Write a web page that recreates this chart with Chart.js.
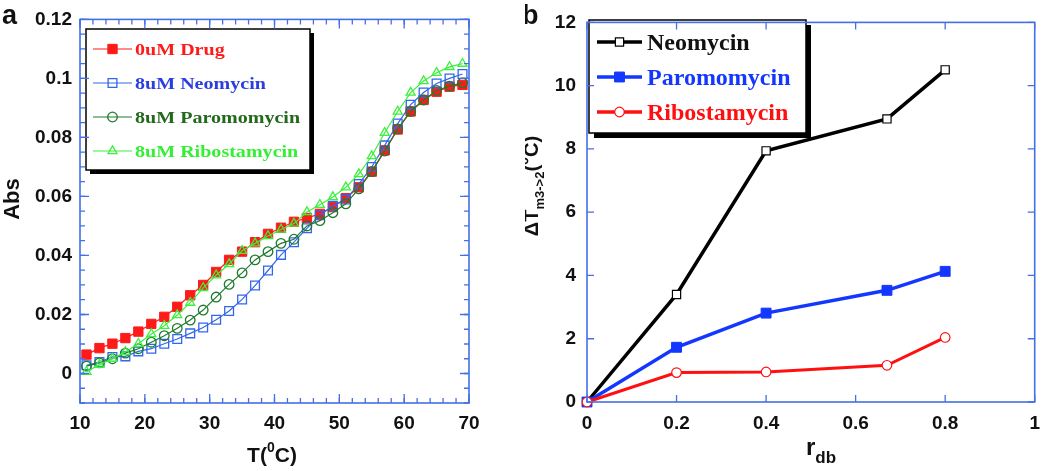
<!DOCTYPE html>
<html>
<head>
<meta charset="utf-8">
<script src="https://cdn.jsdelivr.net/npm/chart.js@4.4.0/dist/chart.umd.min.js"></script>
<style>
  html, body { margin: 0; padding: 0; background: #fff; }
  #wrapA { position: absolute; left: 0; top: 0; width: 525px; height: 471px; }
  #wrapB { position: absolute; left: 525px; top: 0; width: 525px; height: 471px; }
</style>
</head>
<body>
<div id="wrapA"><canvas id="chartA" width="525" height="471"></canvas></div>
<div id="wrapB"><canvas id="chartB" width="525" height="471"></canvas></div>
<script>
// ---- panel a : melting curves ----
const tempC = [11, 13, 15, 17, 19, 21, 23, 25, 27, 29, 31, 33, 35, 37, 39,
               41, 43, 45, 47, 49, 51, 53, 55, 57, 59, 61, 63, 65, 67, 69];
const absDrug0 = [0.0064, 0.0086, 0.0101, 0.0120, 0.0142, 0.0168, 0.0192, 0.0226, 0.0265, 0.0300,
                  0.0344, 0.0385, 0.0413, 0.0445, 0.0473, 0.0494, 0.0514, 0.0527, 0.0541, 0.0564,
                  0.0594, 0.0631, 0.0684, 0.0756, 0.0827, 0.0888, 0.0927, 0.0955, 0.0972, 0.0978];
const absNeo = [0.0028, 0.0039, 0.0056, 0.0058, 0.0075, 0.0084, 0.0101, 0.0117, 0.0136, 0.0156,
                0.0182, 0.0212, 0.0251, 0.0298, 0.0349, 0.0402, 0.0445, 0.0492, 0.0536, 0.0568,
                0.0590, 0.0642, 0.0700, 0.0773, 0.0847, 0.0911, 0.0952, 0.0983, 0.1000, 0.1015];
const absParo = [0.0025, 0.0036, 0.0050, 0.0069, 0.0084, 0.0106, 0.0128, 0.0153, 0.0181, 0.0215,
                 0.0259, 0.0302, 0.0341, 0.0385, 0.0413, 0.0441, 0.0455, 0.0500, 0.0518, 0.0545,
                 0.0575, 0.0626, 0.0684, 0.0754, 0.0829, 0.0888, 0.0927, 0.0959, 0.0974, 0.0985];
const absRibo = [0.0006, 0.0030, 0.0050, 0.0073, 0.0101, 0.0134, 0.0162, 0.0198, 0.0240, 0.0290,
                 0.0333, 0.0371, 0.0416, 0.0441, 0.0466, 0.0488, 0.0508, 0.0547, 0.0572, 0.0598,
                 0.0631, 0.0676, 0.0737, 0.0816, 0.0888, 0.0952, 0.0991, 0.1019, 0.1039, 0.1050];
const seriesA = ['0uM Drug', '8uM Neomycin', '8uM Paromomycin', '8uM Ribostamycin'];
const tempTicks = [10, 20, 30, 40, 50, 60, 70];
const tempTickLabels = ['10', '20', '30', '40', '50', '60', '70'];
const absTicks = [0, 0.02, 0.04, 0.06, 0.08, 0.1, 0.12];
const absTickLabels = ['0', '0.02', '0.04', '0.06', '0.08', '0.1', '0.12'];

// ---- panel b : delta Tm vs r_db ----
const rdb = [0, 0.2, 0.4, 0.67, 0.8];
const dtNeo = [0, 3.40, 7.94, 8.95, 10.5];
const dtParo = [0, 1.73, 2.81, 3.53, 4.13];
const dtRibo = [0, 0.93, 0.95, 1.16, 2.04];
const seriesB = ['Neomycin', 'Paromomycin', 'Ribostamycin'];
const rdbTicks = [0, 0.2, 0.4, 0.6, 0.8, 1];
const rdbTickLabels = ['0', '0.2', '0.4', '0.6', '0.8', '1'];
const dtTicks = [0, 2, 4, 6, 8, 10, 12];
const dtTickLabels = ['0', '2', '4', '6', '8', '10', '12'];

const SANS = "'Liberation Sans', Arial, sans-serif";
const SERIF = "'Liberation Serif', 'Times New Roman', serif";
const FRAME = '#4470e6';

Chart.defaults.font.family = SANS;
Chart.defaults.font.weight = 'bold';
Chart.defaults.font.size = 19;
Chart.defaults.color = '#111';

const pts = (xs, ys) => xs.map((x, i) => ({ x: x, y: ys[i] }));

// frame + inward ticks on all four sides
const frameTicks = {
  id: 'frameTicks',
  afterDraw(chart, args, o) {
    const { ctx, chartArea: a, scales: { x, y } } = chart;
    ctx.save();
    ctx.strokeStyle = FRAME;
    ctx.lineWidth = 1.6;
    ctx.strokeRect(a.left, a.top, a.right - a.left, a.bottom - a.top);
    ctx.lineWidth = 1.3;
    const tick = (px, len, horiz) => {
      ctx.beginPath();
      if (horiz) {
        ctx.moveTo(px, a.bottom); ctx.lineTo(px, a.bottom - len);
        ctx.moveTo(px, a.top); ctx.lineTo(px, a.top + len);
      } else {
        ctx.moveTo(a.left, px); ctx.lineTo(a.left + len, px);
        ctx.moveTo(a.right, px); ctx.lineTo(a.right - len, px);
      }
      ctx.stroke();
    };
    x.ticks.forEach(t => tick(x.getPixelForValue(t.value), o.major, true));
    y.ticks.forEach(t => tick(y.getPixelForValue(t.value), o.major, false));
    if (o.minorX) {
      for (let v = x.min; v <= x.max + 1e-9; v += o.minorX) tick(x.getPixelForValue(v), o.minor, true);
    }
    if (o.minorY) {
      for (let v = y.min; v <= y.max + 1e-9; v += o.minorY) tick(y.getPixelForValue(v), o.minor, false);
    }
    ctx.restore();
  }
};

// titles with sub/superscripts
function drawRich(ctx, segs, cx, cy, rot) {
  ctx.save();
  ctx.translate(cx, cy);
  ctx.rotate(rot);
  ctx.fillStyle = '#111';
  ctx.textBaseline = 'alphabetic';
  let total = 0;
  segs.forEach(s => { ctx.font = 'bold ' + s.size + 'px ' + SANS; s.w = ctx.measureText(s.text).width; total += s.w; });
  let xx = -total / 2;
  segs.forEach(s => { ctx.font = 'bold ' + s.size + 'px ' + SANS; ctx.fillText(s.text, xx, s.dy || 0); xx += s.w; });
  ctx.restore();
}

const titles = {
  id: 'titles',
  afterDraw(chart, args, o) {
    const ctx = chart.ctx;
    ctx.save();
    ctx.fillStyle = '#111';
    ctx.font = 'bold 27px ' + SANS;
    ctx.textBaseline = 'alphabetic';
    ctx.fillText(o.panel, o.panelX, 24);
    ctx.restore();
    drawRich(ctx, o.xTitle, o.xPos[0], o.xPos[1], 0);
    drawRich(ctx, o.yTitle, o.yPos[0], o.yPos[1], -Math.PI / 2);
  }
};

function drawMarker(ctx, style, x, y, r, fill, stroke, lw) {
  ctx.save();
  ctx.lineWidth = lw;
  ctx.strokeStyle = stroke;
  ctx.fillStyle = fill;
  ctx.beginPath();
  if (style === 'rect') {
    const s = r / Math.SQRT2;
    ctx.rect(x - s, y - s, 2 * s, 2 * s);
  } else if (style === 'circle') {
    ctx.arc(x, y, r, 0, Math.PI * 2);
  } else if (style === 'triangle') {
    ctx.moveTo(x, y - r);
    ctx.lineTo(x + r * 0.866, y + r * 0.5);
    ctx.lineTo(x - r * 0.866, y + r * 0.5);
    ctx.closePath();
  }
  ctx.fill();
  ctx.stroke();
  ctx.restore();
}

const boxLegend = {
  id: 'boxLegend',
  afterDatasetsDraw(chart, args, o) {
    const ctx = chart.ctx;
    ctx.save();
    ctx.fillStyle = '#000';
    ctx.fillRect(o.x + o.shadow, o.y + o.shadow, o.w, o.h);
    ctx.fillStyle = '#fff';
    ctx.fillRect(o.x, o.y, o.w, o.h);
    ctx.strokeStyle = '#000';
    ctx.lineWidth = 1.5;
    ctx.strokeRect(o.x, o.y, o.w, o.h);
    chart.data.datasets.forEach((ds, i) => {
      const ry = o.rows[i];
      ctx.strokeStyle = ds.borderColor;
      ctx.lineWidth = o.lineWidth;
      ctx.beginPath();
      ctx.moveTo(o.lineX[0], ry);
      ctx.lineTo(o.lineX[1], ry);
      ctx.stroke();
      drawMarker(ctx, ds.pointStyle, (o.lineX[0] + o.lineX[1]) / 2, ry, ds.pointRadius,
                 ds.pointBackgroundColor, ds.pointBorderColor, ds.pointBorderWidth);
      ctx.save();
      ctx.translate(o.textX, ry + o.textDy);
      ctx.scale(o.stretch, 1);
      ctx.font = 'bold ' + o.size + 'px ' + SERIF;
      ctx.fillStyle = o.textColors[i];
      ctx.textBaseline = 'alphabetic';
      ctx.fillText(ds.label, 0, 0);
      ctx.restore();
    });
    ctx.restore();
  }
};

function axis(min, max, ticks, labels, pad, fit) {
  return {
    type: 'linear', min: min, max: max,
    afterBuildTicks: s => { s.ticks = ticks.map(v => ({ value: v })); },
    afterFit: fit,
    grid: { display: false, drawTicks: false },
    border: { display: false },
    ticks: { padding: pad, autoSkip: false, maxRotation: 0, callback: (v, i) => labels[i] }
  };
}

const baseOpts = {
  responsive: false,
  animation: false,
  events: []
};

// panel a
new Chart(document.getElementById('chartA').getContext('2d'), {
  type: 'line',
  data: {
    datasets: [
      { label: seriesA[0], data: pts(tempC, absDrug0), borderColor: '#ff1a1a', borderWidth: 1.2,
        pointStyle: 'rect', pointRadius: 6.6, pointBackgroundColor: '#ff1a1a', pointBorderColor: '#ff1a1a',
        pointBorderWidth: 1, order: 4, clip: false },
      { label: seriesA[1], data: pts(tempC, absNeo), borderColor: '#3366ee', borderWidth: 1.2,
        pointStyle: 'rect', pointRadius: 6.2, pointBackgroundColor: 'rgba(0,0,0,0)', pointBorderColor: '#3366ee',
        pointBorderWidth: 1.3, order: 3, clip: false },
      { label: seriesA[2], data: pts(tempC, absParo), borderColor: '#1e7a2e', borderWidth: 1.2,
        pointStyle: 'circle', pointRadius: 4.8, pointBackgroundColor: 'rgba(0,0,0,0)', pointBorderColor: '#1e7a2e',
        pointBorderWidth: 1.3, order: 2, clip: false },
      { label: seriesA[3], data: pts(tempC, absRibo), borderColor: '#3cf03c', borderWidth: 1.2,
        pointStyle: 'triangle', pointRadius: 5.2, pointBackgroundColor: 'rgba(0,0,0,0)', pointBorderColor: '#3cf03c',
        pointBorderWidth: 1.3, order: 1, clip: false }
    ]
  },
  options: Object.assign({}, baseOpts, {
    layout: { padding: { top: 15, right: 56, left: 0, bottom: 0 } },
    scales: {
      x: axis(10, 70, tempTicks, tempTickLabels, 9, s => { s.height = 68; }),
      y: axis(-0.01, 0.12, absTicks, absTickLabels, 8, s => { s.width = 80; })
    },
    plugins: {
      legend: { display: false },
      tooltip: { enabled: false },
      frameTicks: { major: 9, minor: 5, minorX: 2, minorY: 0.005 },
      titles: {
        panel: 'a', panelX: 2,
        xTitle: [{ text: 'T(', size: 21 }, { text: '0', size: 14, dy: -10 }, { text: 'C)', size: 21 }],
        xPos: [272, 462],
        yTitle: [{ text: 'Abs', size: 22 }],
        yPos: [19, 199]
      },
      boxLegend: {
        x: 86, y: 29, w: 224, h: 141, shadow: 4,
        rows: [49, 83, 117, 151], lineX: [93, 132], lineWidth: 1.2,
        textX: 135, textDy: 6, size: 17, stretch: 1.18,
        textColors: ['#ff1a1a', '#2b3fe0', '#24681c', '#33f033']
      }
    }
  }),
  plugins: [frameTicks, titles, boxLegend]
});

// panel b
new Chart(document.getElementById('chartB').getContext('2d'), {
  type: 'line',
  data: {
    datasets: [
      { label: seriesB[0], data: pts(rdb, dtNeo), borderColor: '#000', borderWidth: 3.5,
        pointStyle: 'rect', pointRadius: 5.8, pointBackgroundColor: '#fff', pointBorderColor: '#000',
        pointBorderWidth: 1.2, order: 3, clip: false },
      { label: seriesB[1], data: pts(rdb, dtParo), borderColor: '#1437ff', borderWidth: 3.5,
        pointStyle: 'rect', pointRadius: 7, pointBackgroundColor: '#1437ff', pointBorderColor: '#1437ff',
        pointBorderWidth: 1, order: 2, clip: false },
      { label: seriesB[2], data: pts(rdb, dtRibo), borderColor: '#ff1010', borderWidth: 3,
        pointStyle: 'circle', pointRadius: 4.8, pointBackgroundColor: '#fff', pointBorderColor: '#ff1010',
        pointBorderWidth: 1.2, order: 1, clip: false }
    ]
  },
  options: Object.assign({}, baseOpts, {
    layout: { padding: { top: 16, right: 7, left: 0, bottom: 0 } },
    scales: {
      x: axis(0, 1, rdbTicks, rdbTickLabels, 10, s => { s.height = 69; }),
      y: axis(0, 12, dtTicks, dtTickLabels, 11, s => { s.width = 62; })
    },
    plugins: {
      legend: { display: false },
      tooltip: { enabled: false },
      frameTicks: { major: 7, minor: 0 },
      titles: {
        panel: 'b', panelX: -3,
        xTitle: [{ text: 'r', size: 24 }, { text: 'db', size: 17, dy: 8 }],
        xPos: [296, 455],
        yTitle: [{ text: '\u0394T', size: 20 }, { text: 'm3->2', size: 13, dy: 6 }, { text: '(', size: 20 },
                 { text: '\u00B0', size: 20, dy: -2 }, { text: 'C)', size: 20 }],
        yPos: [13, 186]
      },
      boxLegend: {
        x: 64, y: 20, w: 217, h: 113, shadow: 5,
        rows: [42, 77, 112], lineX: [72, 117], lineWidth: 3.5,
        textX: 122, textDy: 8, size: 24, stretch: 1,
        textColors: ['#111', '#1437ff', '#ff1010']
      }
    }
  }),
  plugins: [frameTicks, titles, boxLegend]
});
</script>
</body>
</html>
